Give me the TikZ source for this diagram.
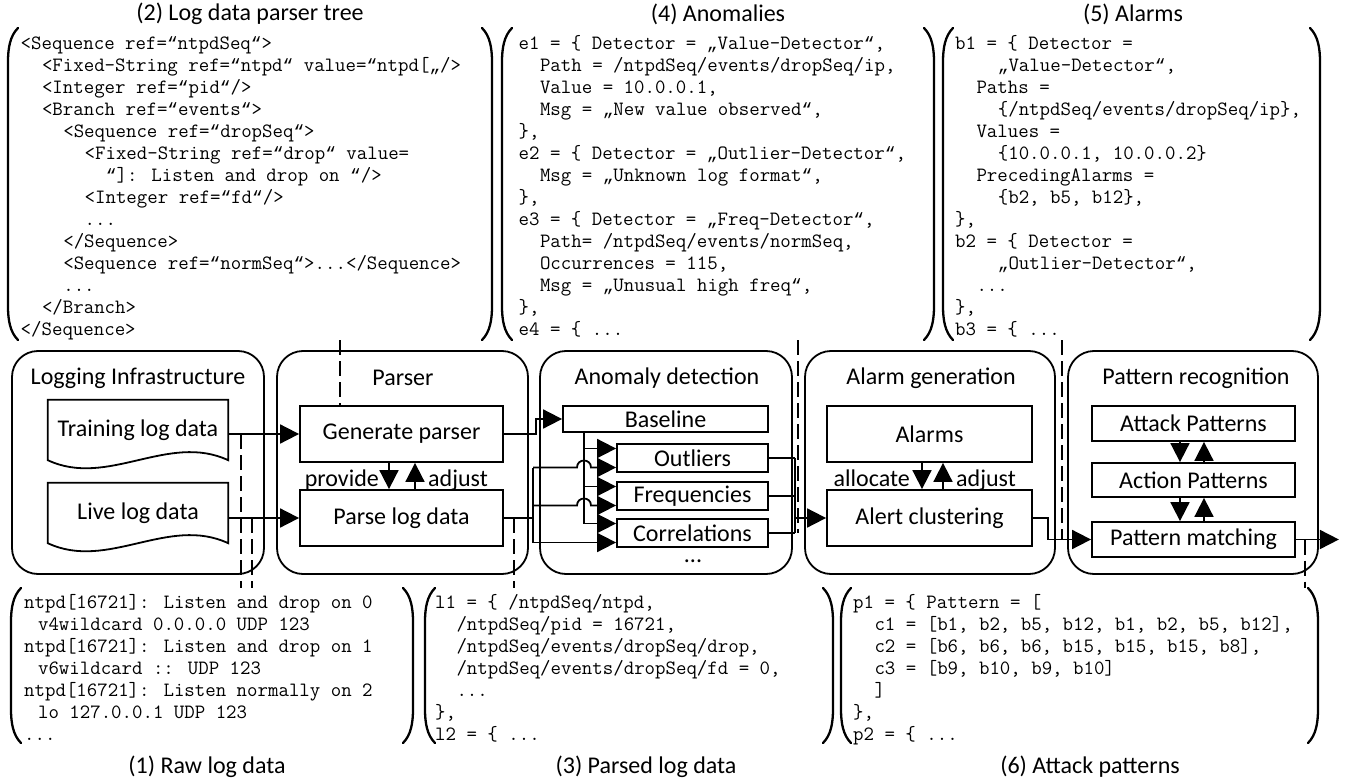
\documentclass[tikz,border=0pt]{standalone}
\usepackage{fontspec}
\setmainfont{Carlito}
\newfontfamily\qfam{Liberation Mono}
\usetikzlibrary{arrows.meta}
\newlength\cwd
\setlength\cwd{10.66pt}
\newcommand\myind[1]{\hspace*{#1\cwd}}
\newcommand\lblfont{\fontsize{24}{28}\selectfont}
\newcommand\codefont{\ttfamily\fontsize{20.3}{22}\selectfont}
\newcommand\oq{{\qfam\fontsize{17.8}{22}\selectfont “}}
\newcommand\lowq{{\qfam\fontsize{17.8}{22}\selectfont „}}
\newcommand\parenpair[4]{%
  \draw[paren] (#1+10,#3) .. controls (#1+2,#3+8) and (#1,#3+20) .. (#1,#3+34) -- (#1,#4-34) .. controls (#1,#4-20) and (#1+2,#4-8) .. (#1+10,#4);
  \draw[paren] (#2-10,#3) .. controls (#2-2,#3+8) and (#2,#3+20) .. (#2,#3+34) -- (#2,#4-34) .. controls (#2,#4-20) and (#2-2,#4-8) .. (#2-10,#4);
}
\begin{document}
\begin{tikzpicture}[x=1pt,y=-1pt,
  lbl/.style={font=\lblfont, inner sep=0pt},
  box/.style={draw, line width=1.8pt, inner sep=0pt, font=\lblfont},
  cont/.style={draw, line width=1.8pt, rounded corners=26pt, inner sep=0pt},
  conn/.style={line width=1.8pt},
  arr/.style={line width=1.8pt, -{Triangle[length=19pt,width=19pt]}},
  dashln/.style={line width=1.8pt, dash pattern=on 15pt off 6pt},
  paren/.style={line width=2.3pt, line cap=round},
  code/.style={font=\codefont, align=left, anchor=north west, inner sep=0pt}]

\useasboundingbox (0,0) rectangle (1353,784);

% containers
\node[cont, minimum width=252pt, minimum height=223pt] (logbox) at (138,462.5) {};
\node[cont, minimum width=251pt, minimum height=223pt] (parbox) at (402.5,462.5) {};
\node[cont, minimum width=252pt, minimum height=223pt] (anbox) at (666,462.5) {};
\node[cont, minimum width=250pt, minimum height=223pt] (algbox) at (930,462.5) {};
\node[cont, minimum width=250pt, minimum height=223pt] (patbox) at (1193,462.5) {};

\node[lbl] (logt) at (138,378) {Logging Infrastructure};
\node[lbl] (part) at (403,378) {Parser};
\node[lbl] (ant) at (667,378) {Anomaly detection};
\node[lbl] (algt) at (931,378) {Alarm generation};
\node[lbl] (patt) at (1196,378) {Pattern recognition};

% documents
\node[minimum width=180pt, minimum height=60pt, inner sep=0pt, font=\lblfont] (train) at (138,430) {Training log data};
\node[minimum width=180pt, minimum height=60pt, inner sep=0pt, font=\lblfont] (live) at (138,513) {Live log data};
\draw[conn] (train.south east) -- (train.north east) -- (train.north west) -- (train.south west) .. controls +(60,28) and +(-60,-28) .. cycle;
\draw[conn] (live.south east) -- (live.north east) -- (live.north west) -- (live.south west) .. controls +(60,28) and +(-60,-28) .. cycle;

% parser
\node[box, minimum width=203pt, minimum height=56pt] (gen) at (401.5,434) {Generate parser};
\node[box, minimum width=203pt, minimum height=56pt] (parse) at (401.5,518) {Parse log data};

% anomaly detection
\node[box, minimum width=205pt, minimum height=26pt] (base) at (665.5,419) {Baseline};
\node[box, minimum width=151pt, minimum height=28pt] (outl) at (692.5,458) {Outliers};
\node[box, minimum width=151pt, minimum height=28pt] (freq) at (692.5,496) {Frequencies};
\node[box, minimum width=151pt, minimum height=28pt] (corr) at (692.5,533) {Correlations};
\node[lbl] (dots) at (693,561) {...};

% alarm generation
\node[box, minimum width=205pt, minimum height=56pt] (alarms) at (929.5,434) {Alarms};
\node[box, minimum width=205pt, minimum height=56pt] (alert) at (929.5,518) {Alert clustering};

% pattern recognition
\node[box, minimum width=203pt, minimum height=35pt] (attack) at (1193.5,423.5) {Attack Patterns};
\node[box, minimum width=203pt, minimum height=34pt] (action) at (1193.5,480) {Action Patterns};
\node[box, minimum width=203pt, minimum height=35pt] (pm) at (1193.5,539.5) {Pattern matching};

% labels
\node[lbl, anchor=base east] (prov) at (379,486) {provide};
\node[lbl, anchor=base west] (adj1) at (428,486) {adjust};
\node[lbl, anchor=base east] (alloc) at (910,486) {allocate};
\node[lbl, anchor=base west] (adj2) at (956,486) {adjust};

% connectors
\draw[arr] (gen.west -| train.east) -- (gen.west);
\draw[arr] (parse.west -| live.east) -- (parse.west);
\draw[arr] ([xshift=-12.5pt]gen.south) -- ([xshift=-12.5pt]parse.north);
\draw[arr] ([xshift=13.5pt]parse.north) -- ([xshift=13.5pt]gen.south);
\draw[arr] ([xshift=-7.5pt]alarms.south) -- ([xshift=-7.5pt]alert.north);
\draw[arr] ([xshift=13.5pt]alert.north) -- ([xshift=13.5pt]alarms.south);
\draw[arr] ([xshift=-13.5pt]attack.south) -- ([xshift=-13.5pt]action.north);
\draw[arr] ([xshift=10.5pt]action.north) -- ([xshift=10.5pt]attack.south);
\draw[arr] ([xshift=-13.5pt]action.south) -- ([xshift=-13.5pt]pm.north);
\draw[arr] ([xshift=10.5pt]pm.north) -- ([xshift=10.5pt]action.south);

\draw[arr] (gen.east) -- ++(32,0) |- (base.west);

\coordinate (bcol) at (584,0);
\coordinate (pcol) at (533,0);
\coordinate (acol) at (795,0);
\coordinate (oU) at ([yshift=9.5pt]outl.west);
\coordinate (oL) at ([yshift=-9.5pt]outl.west);
\coordinate (fU) at ([yshift=9.5pt]freq.west);
\coordinate (fL) at ([yshift=-9.5pt]freq.west);
\coordinate (cU) at ([yshift=9.5pt]corr.west);
\coordinate (cL) at ([yshift=-9.5pt]corr.west);

\draw[conn] (base.south -| bcol) -- (cU -| bcol);
\draw[arr] (oU -| bcol) -- (oU);
\draw[arr] (fU -| bcol) -- (fU);
\draw[arr] (cU -| bcol) -- (cU);

\draw[conn] (parse.east) -- (parse.east -| pcol);
\draw[conn] (oL -| pcol) -- (cL -| pcol);
\draw[arr] (oL -| pcol) -- (577,467.5) .. controls (577,458.2) and (591,458.2) .. (591,467.5) -- (oL);
\draw[arr] (fL -| pcol) -- (577,505.5) .. controls (577,496.2) and (591,496.2) .. (591,505.5) -- (fL);
\draw[arr] (cL -| pcol) -- (cL);

\draw[conn] (outl.east) -- (outl.east -| acol);
\draw[conn] (freq.east) -- (freq.east -| acol);
\draw[conn] (corr.east) -- (corr.east -| acol);
\draw[conn] (outl.east -| acol) -- (corr.east -| acol);
\draw[arr] (alert.west -| acol) -- (alert.west);

\draw[arr] (alert.east) -- ++(15,0) |- (pm.west);
\draw[arr] (pm.east) -- ++(43,0);

% dashed links
\coordinate (d2) at (340,340);
\coordinate (d1a) at (241,588);
\coordinate (d1b) at (252,588);
\coordinate (d3) at (514,588);
\coordinate (d4) at (798,340);
\coordinate (d5) at (1062,340);
\coordinate (d6) at (1305,588);
\draw[dashln] (d2) -- (d2 |- gen.north);
\draw[dashln] (d1a |- gen.west) -- (d1a);
\draw[dashln] (d1b |- parse.west) -- (d1b);
\draw[dashln] (d3 |- parse.east) -- (d3);
\draw[dashln] (d4) -- (d4 |- corr.east);
\draw[dashln] (d5) -- (d5 |- pm.west);
\draw[dashln] (d6 |- pm.east) -- (d6);

% brackets
\parenpair{8}{492}{28}{340}
\parenpair{502}{934}{28}{340}
\parenpair{943}{1320}{28}{340}
\parenpair{11}{413}{588}{743}
\parenpair{425}{833}{588}{743}
\parenpair{841}{1318}{588}{743}

% code texts
\node[code] (tree) at (20.5,34) {%
\strut<Sequence ref=\oq{}ntpdSeq\oq{}>\\
\strut\myind{2}<Fixed-String ref=\oq{}ntpd\oq{} value=\oq{}ntpd[\lowq{}/>\\
\strut\myind{2}<Integer ref=\oq{}pid\oq{}/>\\
\strut\myind{2}<Branch ref=\oq{}events\oq{}>\\
\strut\myind{4}<Sequence ref=\oq{}dropSeq\oq{}>\\
\strut\myind{6}<Fixed-String ref=\oq{}drop\oq{} value=\\
\strut\myind{8}\oq{}]: Listen and drop on \oq{}/>\\
\strut\myind{6}<Integer ref=\oq{}fd\oq{}/>\\
\strut\myind{6}...\\
\strut\myind{4}</Sequence>\\
\strut\myind{4}<Sequence ref=\oq{}normSeq\oq{}>...</Sequence>\\
\strut\myind{4}...\\
\strut\myind{2}</Branch>\\
\strut</Sequence>};

\node[code] (anom) at (518.5,34) {%
\strut e1 = \{ Detector = \lowq{}Value-Detector\oq{},\\
\strut\myind{2}Path = /ntpdSeq/events/dropSeq/ip,\\
\strut\myind{2}Value = 10.0.0.1,\\
\strut\myind{2}Msg = \lowq{}New value observed\oq{},\\
\strut\},\\
\strut e2 = \{ Detector = \lowq{}Outlier-Detector\oq{},\\
\strut\myind{2}Msg = \lowq{}Unknown log format\oq{},\\
\strut\},\\
\strut e3 = \{ Detector = \lowq{}Freq-Detector\oq{},\\
\strut\myind{2}Path= /ntpdSeq/events/normSeq,\\
\strut\myind{2}Occurrences = 115,\\
\strut\myind{2}Msg = \lowq{}Unusual high freq\oq{},\\
\strut\},\\
\strut e4 = \{ ...};

\node[code] (alarm) at (955,34) {%
\strut b1 = \{ Detector =\\
\strut\myind{4}\lowq{}Value-Detector\oq{},\\
\strut\myind{2}Paths =\\
\strut\myind{4}\{/ntpdSeq/events/dropSeq/ip\},\\
\strut\myind{2}Values =\\
\strut\myind{4}\{10.0.0.1, 10.0.0.2\}\\
\strut\myind{2}PrecedingAlarms =\\
\strut\myind{4}\{b2, b5, b12\},\\
\strut\},\\
\strut b2 = \{ Detector =\\
\strut\myind{4}\lowq{}Outlier-Detector\oq{},\\
\strut\myind{2}...\\
\strut\},\\
\strut b3 = \{ ...};

\node[code] (raw) at (24,593) {%
\strut ntpd[16721]: Listen and drop on 0\\
\strut\myind{1.3}v4wildcard 0.0.0.0 UDP 123\\
\strut ntpd[16721]: Listen and drop on 1\\
\strut\myind{1.3}v6wildcard :: UDP 123\\
\strut ntpd[16721]: Listen normally on 2\\
\strut\myind{1.3}lo 127.0.0.1 UDP 123\\
\strut ...};

\node[code] (parsed) at (435,593) {%
\strut l1 = \{ /ntpdSeq/ntpd,\\
\strut\myind{2}/ntpdSeq/pid = 16721,\\
\strut\myind{2}/ntpdSeq/events/dropSeq/drop,\\
\strut\myind{2}/ntpdSeq/events/dropSeq/fd = 0,\\
\strut\myind{2}...\\
\strut\},\\
\strut l2 = \{ ...};

\node[code] (attk) at (853,593) {%
\strut p1 = \{ Pattern = [\\
\strut\myind{2}c1 = [b1, b2, b5, b12, b1, b2, b5, b12],\\
\strut\myind{2}c2 = [b6, b6, b6, b15, b15, b15, b8],\\
\strut\myind{2}c3 = [b9, b10, b9, b10]\\
\strut\myind{2}]\\
\strut\},\\
\strut p2 = \{ ...};

% titles
\node[lbl] (t2) at (250,14) {(2) Log data parser tree};
\node[lbl] (t4) at (718,14) {(4) Anomalies};
\node[lbl] (t5) at (1133,14) {(5) Alarms};
\node[lbl] (t1) at (207,767) {(1) Raw log data};
\node[lbl] (t3) at (646,767) {(3) Parsed log data};
\node[lbl] (t6) at (1090,767) {(6) Attack patterns};
\end{tikzpicture}
\end{document}
